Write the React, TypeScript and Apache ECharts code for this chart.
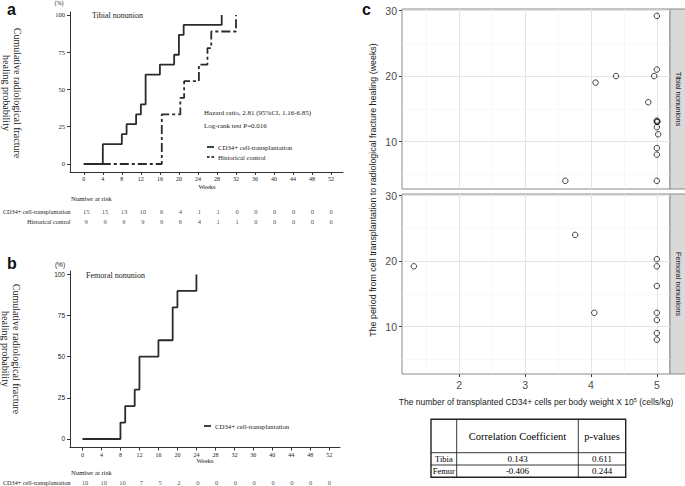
import React, { useEffect, useRef } from "react";
import * as echarts from "echarts";

// ---------- data ----------
const weekTicks = [0, 4, 8, 12, 16, 20, 24, 28, 32, 36, 40, 44, 48, 52];
const percentTicks = [0, 25, 50, 75, 100];

const tibialCD34Weeks = [0, 4, 8, 9, 11, 12, 13, 16, 19, 20, 21, 29];
const tibialCD34Pct = [0, 13.3, 20, 26.7, 33.3, 40, 60, 66.7, 73.3, 86.7, 93.3, 100];
const tibialHistWeeks = [0, 16.4, 20.3, 21.1, 24.2, 26, 26.8, 32];
const tibialHistPct = [0, 33.3, 44.4, 55.6, 66.7, 77.8, 88.9, 100];
const femoralWeeks = [0, 8, 9, 11, 12, 16, 19, 20, 24];
const femoralPct = [0, 10, 20, 30, 50, 60, 80, 90, 100];

const riskRowsA = ["CD34+ cell-transplantation", "Historical control"];
const riskTibialCD34 = [15, 15, 13, 10, 6, 4, 1, 1, 0, 0, 0, 0, 0, 0];
const riskTibialHist = [9, 9, 9, 9, 9, 6, 4, 1, 1, 0, 0, 0, 0, 0];
const riskRowsB = ["CD34+ cell-transplantation"];
const riskFemoralCD34 = [10, 10, 10, 7, 5, 2, 0, 0, 0, 0, 0, 0, 0, 0];

const cellTicks = [2, 3, 4, 5];
const cellMinor = [1.5, 2.5, 3.5, 4.5];
const healTicks = [10, 20, 30];
const healMinor = [5, 15, 25];

const tibiaCells = [5.0, 5.0, 4.96, 4.38, 4.07, 4.87, 5.0, 5.0, 5.01, 5.0, 5.02, 5.0, 5.0, 3.61, 5.0];
const tibiaHealWeeks = [29.2, 21, 20, 20, 19, 16, 13.2, 13, 13.05, 12.2, 11.1, 9, 8, 4, 4];
const femurCells = [1.31, 3.76, 4.05, 5, 5, 5, 5, 5, 5, 5];
const femurHealWeeks = [19.2, 24, 12.1, 20.3, 19.2, 16.2, 12.1, 11, 9, 8];

const facetLabels = ["Tibial nonunions", "Femoral nonunions"];
const tableHeader = ["", "Correlation Coefficient", "p-values"];
const tableRowNames = ["Tibia", "Femur"];
const tableCoef = ["0.143", "-0.406"];
const tableP = ["0.611", "0.244"];

// ---------- styles ----------
const SERIF = '"Liberation Serif", "Times New Roman", serif';
const SANS = '"Liberation Sans", Arial, sans-serif';
const INK = "#1a1a1a";
const KM = "#2b2b2b";

function buildOption() {
  const zip = (xs: number[], ys: number[]) => xs.map((x, i) => [x, ys[i]]);

  const kmX = (gridIndex: number, min: number, max: number) => ({
    type: "value",
    gridIndex,
    min,
    max,
    axisLine: { show: true, onZero: false, lineStyle: { color: "#333", width: 1 } },
    axisTick: { show: true, length: 3, customValues: weekTicks, lineStyle: { color: "#333" } },
    axisLabel: { show: true, customValues: weekTicks, fontSize: 6, fontFamily: SERIF, color: INK, margin: 4 },
    splitLine: { show: false },
  });
  const kmY = (gridIndex: number, min: number, max: number, font: string) => ({
    type: "value",
    gridIndex,
    min,
    max,
    axisLine: { show: true, onZero: false, lineStyle: { color: "#333", width: 1 } },
    axisTick: { show: true, length: 3, customValues: percentTicks, lineStyle: { color: "#333" } },
    axisLabel: { show: true, customValues: percentTicks, fontSize: 6.5, fontFamily: font, color: INK, margin: 5 },
    splitLine: { show: false },
  });
  const hiddenX = (gridIndex: number, min: number, max: number) => ({
    type: "value",
    gridIndex,
    min,
    max,
    show: false,
    splitLine: { show: false },
  });
  const riskY = (gridIndex: number, rows: string[]) => ({
    type: "category",
    gridIndex,
    data: rows,
    inverse: true,
    axisLine: { show: false },
    axisTick: { show: false },
    axisLabel: { fontSize: 6.2, fontFamily: SERIF, color: INK, margin: 2 },
    splitLine: { show: false },
  });
  const scX = (gridIndex: number, labels: boolean) => ({
    type: "value",
    gridIndex,
    min: 1.13,
    max: 5.2,
    axisLine: { show: false },
    axisTick: { show: labels, length: 3, customValues: cellTicks, lineStyle: { color: "#444" } },
    axisLabel: { show: labels, customValues: cellTicks, fontSize: 10.5, fontFamily: SANS, color: "#4d4d4d", margin: 5 },
    splitLine: { show: false },
  });
  const scY = (gridIndex: number) => ({
    type: "value",
    gridIndex,
    min: 2.75,
    max: 30.25,
    axisLine: { show: false },
    axisTick: { show: true, length: 3, customValues: healTicks, lineStyle: { color: "#444" } },
    axisLabel: { show: true, customValues: healTicks, fontSize: 10.5, fontFamily: SANS, color: "#4d4d4d", margin: 5 },
    splitLine: { show: false },
  });

  const riskSeries = (xIdx: number, row: string, values: number[]) => ({
    type: "scatter",
    xAxisIndex: xIdx,
    yAxisIndex: xIdx,
    symbolSize: 1,
    itemStyle: { color: "rgba(0,0,0,0)" },
    silent: true,
    data: values.map((v, i) => [weekTicks[i], row, v]),
    label: {
      show: true,
      position: "inside",
      formatter: (p: any) => String(p.value[2]),
      fontSize: 6.5,
      fontFamily: SERIF,
      color: "#111",
      textBorderWidth: 0,
      textBorderColor: "transparent",
    },
  });

  const gridLines = (idx: number) => ({
    type: "line",
    xAxisIndex: idx,
    yAxisIndex: idx,
    data: [],
    silent: true,
    z: 1,
    markLine: {
      silent: true,
      symbol: ["none", "none"],
      label: { show: false },
      emphasis: { disabled: true },
      data: [
        ...cellMinor.map((v) => ({ xAxis: v, lineStyle: { color: "#f3f3f3", width: 0.6, type: "solid" } })),
        ...healMinor.map((v) => ({ yAxis: v, lineStyle: { color: "#f3f3f3", width: 0.6, type: "solid" } })),
        ...cellTicks.map((v) => ({ xAxis: v, lineStyle: { color: "#e4e4e4", width: 1, type: "solid" } })),
        ...healTicks.map((v) => ({ yAxis: v, lineStyle: { color: "#e4e4e4", width: 1, type: "solid" } })),
      ],
    },
  });

  const ring = (idx: number, xs: number[], ys: number[]) => ({
    type: "scatter",
    xAxisIndex: idx,
    yAxisIndex: idx,
    z: 10,
    symbol: "circle",
    symbolSize: 5.5,
    itemStyle: { color: "rgba(0,0,0,0)", borderColor: "#111", borderWidth: 1 },
    data: zip(xs, ys),
  });

  // ---------- graphics ----------
  const txt = (x: number, y: number, text: string, size: number, font: string, extra: any = {}) => ({
    type: "text",
    x,
    y,
    silent: true,
    style: {
      text,
      fontSize: size,
      fontFamily: font,
      fill: INK,
      align: "left",
      verticalAlign: "middle",
      ...extra,
    },
  });
  const rot = (x: number, y: number, text: string, size: number, font: string, angle: number, extra: any = {}) => ({
    type: "text",
    x,
    y,
    rotation: angle,
    silent: true,
    style: { text, fontSize: size, fontFamily: font, fill: INK, align: "center", verticalAlign: "middle", ...extra },
  });
  const seg = (x1: number, y1: number, x2: number, y2: number, w: number, color = KM) => ({
    type: "line",
    silent: true,
    shape: { x1, y1, x2, y2 },
    style: { stroke: color, lineWidth: w },
  });
  const CW = -Math.PI / 2;
  const CCW = Math.PI / 2;

  const graphics: any[] = [
    // panel a
    txt(7, 9, "a", 16, SANS, { fontWeight: "bold", fill: "#111" }),
    txt(59, 3, "(%)", 6, SERIF, { align: "center" }),
    rot(12, 93, "Cumulative radiological fracture\nhealing probability", 10, SERIF, CW, { lineHeight: 10.5 }),
    txt(92, 15, "Tibial nonunion", 8, SERIF),
    txt(204, 113, "Hazard ratio, 2.81 (95%CI, 1.16-6.85)", 7, SERIF),
    txt(204, 126, "Log-rank test P=0.016", 7, SERIF),
    seg(207, 147, 214, 147, 1.8),
    seg(207, 157, 209.5, 157, 1.8),
    seg(211.5, 157, 214, 157, 1.8),
    txt(218, 147, "CD34+ cell-transplantation", 6.8, SERIF),
    txt(218, 157, "Historical control", 6.8, SERIF),
    txt(207, 186, "Weeks", 6.5, SERIF, { align: "center" }),
    txt(71, 198, "Number at risk", 6.8, SERIF),
    // panel b
    txt(7, 263, "b", 16, SANS, { fontWeight: "bold", fill: "#111" }),
    txt(60, 264, "(%)", 6.5, SANS, { align: "center" }),
    rot(11, 349, "Cumulative radiological fracture\nhealing probability", 10, SERIF, CW, { lineHeight: 10.5 }),
    txt(86, 275, "Femoral nonunion", 8, SERIF),
    seg(204, 426, 211, 426, 1.8),
    txt(215, 426, "CD34+ cell-transplantation", 6.8, SERIF),
    txt(205, 460, "Weeks", 6.5, SERIF, { align: "center" }),
    txt(71, 472, "Number at risk", 6.8, SERIF),
    // panel c
    txt(362, 9, "c", 16, SANS, { fontWeight: "bold", fill: "#111" }),
    rot(373, 190, "The period from cell transplantation to radiological fracture healing (weeks)", 8.9, SANS, CCW),
    {
      type: "rect",
      silent: true,
      shape: { x: 670, y: 9, width: 16, height: 180 },
      style: { fill: "#d9d9d9", stroke: "#8a8a8a", lineWidth: 1 },
    },
    {
      type: "rect",
      silent: true,
      shape: { x: 670, y: 194, width: 16, height: 180 },
      style: { fill: "#d9d9d9", stroke: "#8a8a8a", lineWidth: 1 },
    },
    rot(678, 99, facetLabels[0], 7.5, SANS, CW),
    rot(678, 284, facetLabels[1], 7.5, SANS, CW),
    {
      type: "text",
      x: 536,
      y: 402,
      silent: true,
      style: {
        text: "{a|The number of transplanted CD34+ cells per body weight X 10}{s|5}{a| (cells/kg)}",
        align: "center",
        verticalAlign: "middle",
        rich: {
          a: { fontSize: 8.5, fontFamily: SANS, fill: INK, lineHeight: 11 },
          s: { fontSize: 5.5, fontFamily: SANS, fill: INK, lineHeight: 6, verticalAlign: "top" },
        },
      },
    },
  ];

  // table
  const colX = [431, 456.7, 578.3, 625.7];
  const rowY = [419.3, 452.7, 465, 477.3];
  graphics.push({
    type: "rect",
    silent: true,
    shape: { x: colX[0], y: rowY[0], width: colX[3] - colX[0], height: rowY[3] - rowY[0] },
    style: { fill: "#fff", stroke: "#222", lineWidth: 1.4 },
  });
  for (let i = 1; i < 3; i++) graphics.push(seg(colX[i], rowY[0], colX[i], rowY[3], 0.9, "#222"));
  for (let j = 1; j < 3; j++) graphics.push(seg(colX[0], rowY[j], colX[3], rowY[j], 0.9, "#222"));
  const cx = (i: number) => (colX[i] + colX[i + 1]) / 2;
  const cy = (j: number) => (rowY[j] + rowY[j + 1]) / 2;
  tableHeader.forEach((h, i) => {
    if (h) graphics.push(txt(cx(i), cy(0), h, 10.5, SERIF, { align: "center", fill: "#000" }));
  });
  tableRowNames.forEach((r, j) => {
    graphics.push(txt(cx(0), cy(j + 1), r, 8.5, SERIF, { align: "center", fill: "#000" }));
    graphics.push(txt(cx(1), cy(j + 1), tableCoef[j], 9, SERIF, { align: "center", fill: "#000" }));
    graphics.push(txt(cx(2), cy(j + 1), tableP[j], 9, SERIF, { align: "center", fill: "#000" }));
  });

  return {
    animation: false,
    backgroundColor: "#ffffff",
    grid: [
      { left: 70, top: 12, width: 273, height: 160 },
      { left: 70, top: 206, width: 273, height: 20 },
      { left: 70, top: 271, width: 270, height: 176.5 },
      { left: 70, top: 478, width: 270, height: 10 },
      { left: 402, top: 9, width: 268, height: 180, show: true, borderColor: "#8a8a8a", borderWidth: 1, backgroundColor: "#fff" },
      { left: 402, top: 194, width: 268, height: 180, show: true, borderColor: "#8a8a8a", borderWidth: 1, backgroundColor: "#fff" },
    ],
    xAxis: [
      kmX(0, -2.9, 54.5),
      hiddenX(1, -2.9, 54.5),
      kmX(2, -2.63, 54.25),
      hiddenX(3, -2.63, 54.25),
      scX(4, false),
      scX(5, true),
    ],
    yAxis: [
      kmY(0, -5.37, 102, SERIF),
      riskY(1, riskRowsA),
      kmY(2, -5.17, 102.1, SANS),
      riskY(3, riskRowsB),
      scY(4),
      scY(5),
    ],
    series: [
      {
        type: "line",
        name: "CD34+ cell-transplantation",
        xAxisIndex: 0,
        yAxisIndex: 0,
        step: "end",
        symbol: "none",
        lineStyle: { color: KM, width: 1.8 },
        data: zip(tibialCD34Weeks, tibialCD34Pct),
      },
      {
        type: "line",
        name: "Historical control",
        xAxisIndex: 0,
        yAxisIndex: 0,
        step: "end",
        symbol: "none",
        lineStyle: { color: KM, width: 1.8, type: [9, 3, 3, 3] },
        data: zip(tibialHistWeeks, tibialHistPct),
      },
      riskSeries(1, riskRowsA[0], riskTibialCD34),
      riskSeries(1, riskRowsA[1], riskTibialHist),
      {
        type: "line",
        name: "CD34+ femoral",
        xAxisIndex: 2,
        yAxisIndex: 2,
        step: "end",
        symbol: "none",
        lineStyle: { color: KM, width: 1.8 },
        data: zip(femoralWeeks, femoralPct),
      },
      riskSeries(3, riskRowsB[0], riskFemoralCD34),
      gridLines(4),
      gridLines(5),
      ring(4, tibiaCells, tibiaHealWeeks),
      ring(5, femurCells, femurHealWeeks),
    ],
    graphic: graphics,
  };
}

export default function App() {
  const ref = useRef<HTMLDivElement>(null);
  useEffect(() => {
    if (!ref.current) return;
    const chart = echarts.init(ref.current, undefined, { renderer: "svg" });
    chart.setOption(buildOption() as any);
    return () => chart.dispose();
  }, []);
  return (
    <div
      ref={ref}
      style={{ position: "fixed", left: 0, top: 0, width: 685, height: 486, background: "#fff" }}
    />
  );
}
